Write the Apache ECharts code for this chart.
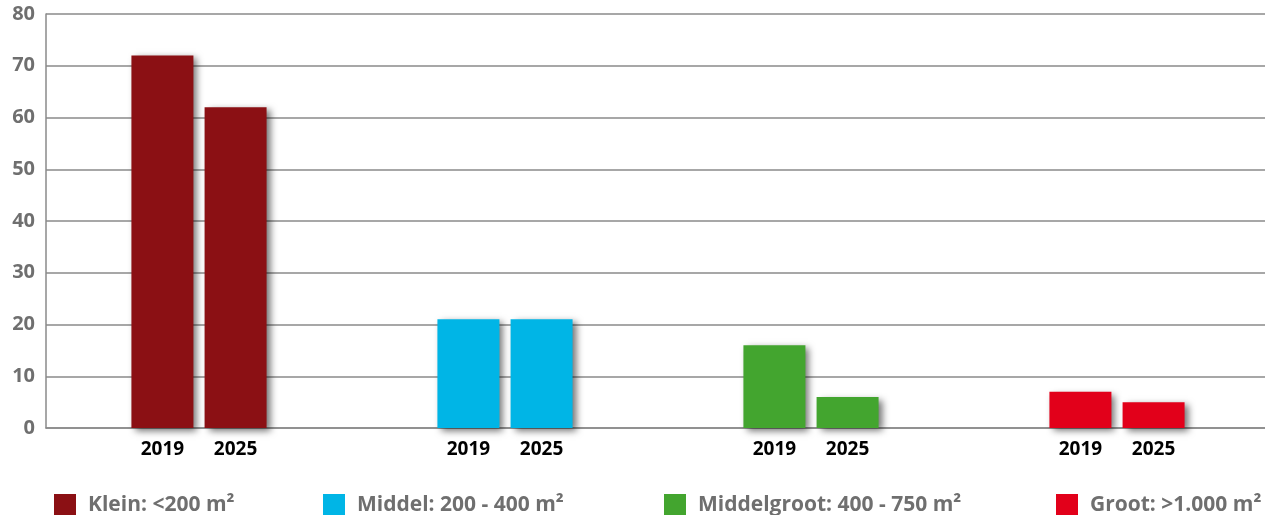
<!DOCTYPE html>
<html>
<head>
<meta charset="utf-8">
<script src="https://cdn.jsdelivr.net/npm/echarts@6/dist/echarts.min.js"></script>
<style>
  html, body { margin: 0; padding: 0; background: #fff; }
  #chart { width: 1265px; height: 515px; }
</style>
</head>
<body>
<div id="chart"></div>
<script>
// grootteklassen (categorieën) en kleuren
const classes = ['Klein: <200 m²', 'Middel: 200 - 400 m²', 'Middelgroot: 400 - 750 m²', 'Groot: >1.000 m²']
const colors = ['#8B1014', '#00B5E6', '#43A52F', '#E2001A']
const years = ['2019', '2025']

// waarden per jaar
const values2019 = [72, 21, 16, 7]
const values2025 = [62, 21, 6, 5]

const yTicks = { min: 0, max: 80, interval: 10 }

// x-positie van elk legenda-item
const legendLeft = [54, 323, 664, 1056]

const chart = echarts.init(document.getElementById('chart'))

const fontFam = '"Open Sans", "DejaVu Sans", sans-serif'

const barSeries = (name, values) => ({
  name: name,
  type: 'bar',
  barWidth: 62,
  barGap: '18%',
  data: values.map((v, i) => ({
    value: v,
    itemStyle: { color: colors[i] }
  })),
  itemStyle: {
    shadowColor: 'rgba(0,0,0,0.55)',
    shadowBlur: 7,
    shadowOffsetX: 4,
    shadowOffsetY: 3
  },
  label: {
    show: true,
    position: 'bottom',
    distance: 12,
    formatter: '{a}',
    color: '#000',
    fontFamily: fontFam,
    fontWeight: 'bold',
    fontSize: 19
  },
  emphasis: { disabled: true }
})

// lege hulpreeksen alleen voor de legenda
const legendSeries = classes.map((c, i) => ({
  name: c,
  type: 'line',
  data: [],
  itemStyle: { color: colors[i] }
}))

const legends = classes.map((c, i) => ({
  data: [c],
  left: legendLeft[i],
  top: 494,
  padding: 0,
  icon: 'rect',
  itemWidth: 22,
  itemHeight: 22,
  selectedMode: false,
  textStyle: {
    color: '#6f6f6f',
    fontFamily: fontFam,
    fontWeight: 'bold',
    fontSize: 21,
    padding: [0, 0, 0, 7]
  }
}))

const option = {
  animation: false,
  grid: { left: 46, top: 14, bottom: 87, width: 1224, outerBoundsMode: 'none', containLabel: false },
  legend: legends,
  xAxis: {
    type: 'category',
    data: classes,
    axisLine: { show: true, lineStyle: { color: '#8a8a8a', width: 1.5 } },
    axisTick: { show: false },
    axisLabel: { show: false },
    splitLine: { show: false }
  },
  yAxis: {
    type: 'value',
    min: yTicks.min,
    max: yTicks.max,
    interval: yTicks.interval,
    axisLine: { show: true, lineStyle: { color: '#8a8a8a', width: 1.5 } },
    axisTick: { show: false },
    axisLabel: {
      color: '#6f6f6f',
      fontFamily: fontFam,
      fontWeight: 'bold',
      fontSize: 20,
      margin: 11
    },
    splitLine: { lineStyle: { color: '#8a8a8a', width: 1.5 } }
  },
  series: [barSeries(years[0], values2019), barSeries(years[1], values2025)].concat(legendSeries)
}

chart.setOption(option)
</script>
</body>
</html>
